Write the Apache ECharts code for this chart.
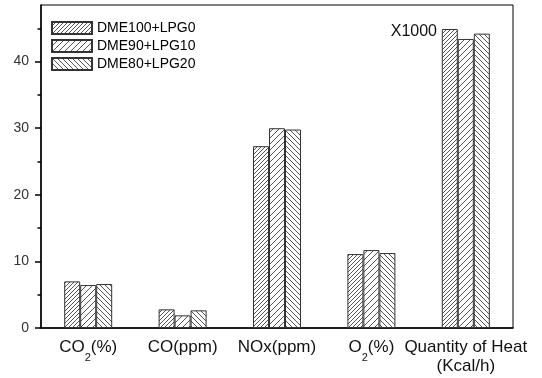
<!DOCTYPE html>
<html><head><meta charset="utf-8">
<script src="https://cdn.jsdelivr.net/npm/echarts@6/dist/echarts.min.js"></script>
<style>html,body{margin:0;padding:0;background:#fff}#c{width:542px;height:378px}</style>
</head><body><div id="c"></div>
<script>
const categories = ['CO2(%)', 'CO(ppm)', 'NOx(ppm)', 'O2(%)', 'Quantity of Heat\n(Kcal/h)'];
const seriesNames = ['DME100+LPG0', 'DME90+LPG10', 'DME80+LPG20'];
const dme100 = [7.0, 2.8, 27.3, 11.1, 44.9];
const dme90 = [6.45, 1.9, 30.0, 11.7, 43.4];
const dme80 = [6.6, 2.65, 29.8, 11.25, 44.2];
const yTicks = [0, 10, 20, 30, 40];
const yMinorTicks = [5, 15, 25, 35, 45];
const FONT = 'Liberation Sans, Arial, sans-serif';

function hatch(s, dir, color) {
  const c = document.createElement('canvas');
  c.width = s; c.height = s;
  const g = c.getContext('2d');
  g.fillStyle = '#fff'; g.fillRect(0, 0, s, s);
  g.strokeStyle = color; g.lineWidth = 1;
  g.beginPath();
  for (const o of [-s, 0, s]) {
    if (dir > 0) { g.moveTo(o, s); g.lineTo(o + s, 0); }
    else { g.moveTo(o, 0); g.lineTo(o + s, s); }
  }
  g.stroke();
  return c;
}
const patterns = [hatch(4, 1, '#555'), hatch(6, 1, '#555'), hatch(5, -1, '#555')];
const seriesData = [dme100, dme90, dme80];

const chart = echarts.init(document.getElementById('c'), null, {renderer: 'canvas'});
chart.setOption({
  animation: false,
  textStyle: {fontFamily: FONT},
  grid: {left: 41, right: 29, top: 5, bottom: 50, show: true, borderColor: '#000', borderWidth: 1, outerBoundsMode: 'none'},
  legend: {
    orient: 'vertical', left: 46, top: 16, itemWidth: 40, itemHeight: 12, itemGap: 4, icon: 'rect',
    textStyle: {fontSize: 14, color: '#000', fontFamily: FONT},
    data: seriesNames
  },
  xAxis: [
    {
      type: 'category', data: categories, position: 'bottom',
      axisLine: {lineStyle: {color: '#000', width: 1.5}},
      axisTick: {alignWithLabel: true, length: 6, lineStyle: {color: '#000', width: 1.5}},
      axisLabel: {
        margin: 10, fontSize: 17, lineHeight: 19, color: '#111', interval: 0, fontFamily: FONT,
        formatter: v => v.replace('O2', 'O{sub|2}'),
        rich: {sub: {fontSize: 11, lineHeight: 19, padding: [14, 0, 0, 0], verticalAlign: 'top', color: '#111', fontFamily: FONT}}
      },
      splitLine: {show: false}
    },
    {
      type: 'category', data: categories, position: 'bottom',
      axisLine: {show: false},
      axisTick: {length: 3.5, lineStyle: {color: '#000', width: 1.5}},
      axisLabel: {show: false}, splitLine: {show: false}
    }
  ],
  yAxis: [
    {
      type: 'value', min: 0, max: 48.5, interval: 10, position: 'left',
      axisLine: {show: true, lineStyle: {color: '#000', width: 1.5}},
      axisTick: {show: true, length: 6, customValues: yTicks, lineStyle: {color: '#000', width: 1.5}},
      axisLabel: {customValues: yTicks, margin: 12, fontSize: 14, color: '#333', fontFamily: FONT},
      splitLine: {show: false}
    },
    {
      type: 'value', min: 0, max: 48.5, position: 'left',
      axisLine: {show: false},
      axisTick: {show: true, length: 3.5, customValues: yMinorTicks, lineStyle: {color: '#000', width: 1.5}},
      axisLabel: {show: false}, splitLine: {show: false}
    }
  ],
  graphic: [{
    type: 'text', x: 437, y: 31.5,
    style: {text: 'X1000', align: 'right', verticalAlign: 'middle', fontSize: 16, fontFamily: FONT, fill: '#111'}
  }],
  series: seriesNames.map((name, i) => ({
    name, type: 'bar', data: seriesData[i], xAxisIndex: 0, yAxisIndex: 0,
    barWidth: 16, barGap: '0%',
    itemStyle: {color: {image: patterns[i], repeat: 'repeat'}, borderColor: '#333', borderWidth: 1},
    emphasis: {disabled: true}
  }))
});
</script></body></html>
